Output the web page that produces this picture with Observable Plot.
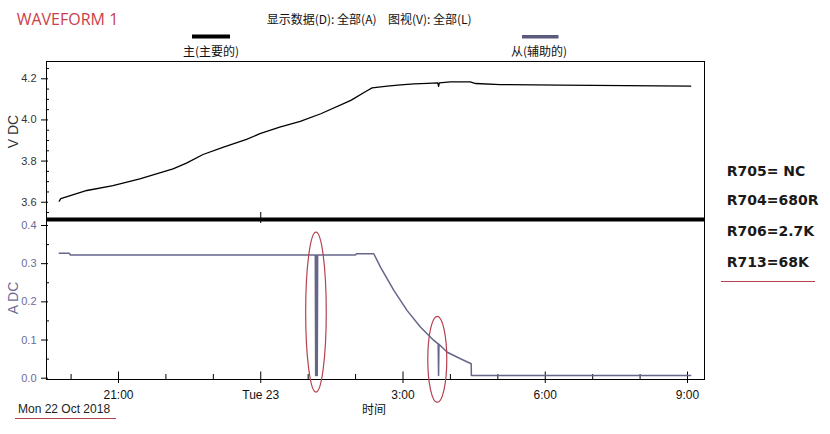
<!DOCTYPE html>
<html>
<head>
<meta charset="utf-8">
<script src="https://cdn.jsdelivr.net/npm/d3@7"></script>
<script src="https://cdn.jsdelivr.net/npm/@observablehq/plot@0.6"></script>
<style>
  body { margin: 0; background: #fff; }
  #wrap { position: relative; width: 830px; height: 434px; overflow: hidden; background: #fff; }
  #wrap svg { position: absolute; left: 0; }
</style>
</head>
<body>
<div id="wrap"></div>
<script>
// ---------------- data ----------------
const vdcData = [
  ["22 19:45", 3.605], ["22 19:47", 3.617], ["22 19:54", 3.626], ["22 20:20", 3.657],
  ["22 20:53", 3.681], ["22 21:27", 3.714], ["22 21:48", 3.738], ["22 22:09", 3.762],
  ["22 22:26", 3.790], ["22 22:47", 3.832], ["22 23:12", 3.867], ["22 23:42", 3.905],
  ["22 23:59", 3.933], ["23 00:24", 3.965], ["23 00:50", 3.993], ["23 01:16", 4.030],
  ["23 01:54", 4.095], ["23 02:15", 4.143], ["23 02:21", 4.156], ["23 02:40", 4.164],
  ["23 02:57", 4.170], ["23 03:14", 4.175], ["23 03:31", 4.178], ["23 03:44", 4.180],
  ["23 03:45", 4.163], ["23 03:46", 4.180], ["23 04:00", 4.185], ["23 04:25", 4.185],
  ["23 04:32", 4.177], ["23 05:03", 4.172], ["23 06:19", 4.169], ["23 09:04", 4.164]
];
const adcData = [
  ["22 19:45", 0.327], ["22 19:58", 0.327], ["22 19:59", 0.323], ["23 01:09", 0.323],
  ["23 01:09.5", 0.007], ["23 01:10", 0.323], ["23 01:10.5", 0.007], ["23 01:11", 0.323],
  ["23 01:11.5", 0.007], ["23 01:12", 0.323], ["23 02:00", 0.323], ["23 02:01", 0.326],
  ["23 02:23", 0.326], ["23 02:31.5", 0.291], ["23 02:48.4", 0.230], ["23 03:05.3", 0.177],
  ["23 03:22", 0.134], ["23 03:39", 0.099], ["23 03:44.5", 0.090], ["23 03:45", 0.007],
  ["23 03:45.5", 0.089], ["23 03:56", 0.068], ["23 04:12.7", 0.051], ["23 04:26.3", 0.038],
  ["23 04:26.5", 0.007], ["23 09:04", 0.007]
];
const timeDomain = ["22 19:28.9", "23 09:21.5"];
const vdcDomain = [3.516, 4.284];
const adcDomain = [-0.0034, 0.4157];
const vdcMajorTicks = [3.6, 3.8, 4.0, 4.2];
const vdcMinorTicks = [3.55, 3.65, 3.7, 3.75, 3.85, 3.9, 3.95, 4.05, 4.1, 4.15, 4.25];
const adcMajorTicks = [0, 0.1, 0.2, 0.3, 0.4];
const adcMinorTicks = [0.05, 0.15, 0.25, 0.35];
const timeMajorTicks = ["22 21:00", "23 00:00", "23 03:00", "23 06:00", "23 09:00"];
const timeMajorLabels = ["21:00", "Tue 23", "3:00", "6:00", "9:00"];
const timeMinorTicks = ["22 20:00", "22 22:00", "22 23:00", "23 01:00", "23 02:00", "23 04:00", "23 05:00", "23 07:00", "23 08:00"];
const dayBoundary = "23 00:00";
const highlightTimes = ["23 01:10.5", "23 03:44"];
const highlightValues = [0.172, 0.048];
const titleText = "WAVEFORM 1";
const menuTexts = ["显示数据(D): 全部(A)", "图视(V): 全部(L)"];
const seriesNames = ["主(主要的)", "从(辅助的)"];
const axisTitles = ["V DC", "A DC", "时间"];
const dateText = "Mon 22 Oct 2018";
const resistorNotes = ["R705= NC", "R704=680R", "R706=2.7K", "R713=68K"];

// ---------------- helpers ----------------
const parseT = s => {
  const [d, hm] = s.split(" ");
  const [h, m] = hm.split(":").map(Number);
  return new Date(Date.UTC(2018, 9, +d, h, 0, Math.round(m * 60)));
};
const vdc = vdcData.map(([t, v]) => ({t: parseT(t), v}));
const adc = adcData.map(([t, v]) => ({t: parseT(t), v}));
const xDom = timeDomain.map(parseT);
const majorT = timeMajorTicks.map(parseT);
const minorT = timeMinorTicks.map(parseT);
const labelMap = new Map(majorT.map((d, i) => [+d, timeMajorLabels[i]]));
const fmt1 = d3.format(".1f");
const wrap = document.getElementById("wrap");
const baseStyle = {background: "transparent", overflow: "visible", fontFamily: "'Liberation Sans', Arial, sans-serif", fontSize: "12px"};

const VCOL = "#000";
const ACOL = "#66668a";
const ALAB = "#6c6c94";

// ---------------- top panel (VDC) ----------------
const topPlot = Plot.plot({
  width: 830, height: 168,
  marginTop: 5, marginBottom: 5, marginLeft: 46, marginRight: 126,
  style: baseStyle,
  x: {type: "utc", domain: xDom, axis: null, label: null},
  y: {domain: vdcDomain, axis: null, label: null},
  marks: [
    Plot.axisY({ticks: vdcMinorTicks, tickSize: 3, dx: 3, fill: "none", label: null}),
    Plot.axisY({ticks: vdcMajorTicks, tickSize: 7, dx: 2, fill: "none", label: null}),
    Plot.axisY({ticks: vdcMajorTicks, tickSize: 0, tickPadding: 10, tickFormat: fmt1, fill: "#333", fontSize: 11, label: null}),
    Plot.axisX({ticks: [parseT(dayBoundary)], tickSize: 11, dy: -7, fill: "none", label: null}),
    Plot.frame({stroke: "#000"}),
    Plot.ruleY([vdcDomain[0]], {stroke: "#000", strokeWidth: 4}),
    Plot.line(vdc, {x: "t", y: "v", stroke: VCOL, strokeWidth: 1.3})
  ]
});
topPlot.style.top = "56px";
wrap.appendChild(topPlot);

// ---------------- bottom panel (ADC) ----------------
const botPlot = Plot.plot({
  width: 830, height: 215,
  marginTop: 5, marginBottom: 50, marginLeft: 46, marginRight: 126,
  style: baseStyle,
  x: {type: "utc", domain: xDom, axis: null, label: null},
  y: {domain: adcDomain, axis: null, label: null},
  marks: [
    Plot.axisY({ticks: adcMinorTicks, tickSize: 3, dx: 3, fill: "none", label: null}),
    Plot.axisY({ticks: adcMajorTicks, tickSize: 7, dx: 2, fill: "none", label: null}),
    Plot.axisY({ticks: adcMajorTicks, tickSize: 0, tickPadding: 10, tickFormat: fmt1, fill: ALAB, fontSize: 11, label: null}),
    Plot.axisX({ticks: minorT, tickSize: 5, dy: -5, fill: "none", label: null}),
    Plot.axisX({ticks: majorT, tickSize: 11.5, dy: -7.5, fill: "none", label: null}),
    Plot.axisX({ticks: majorT, tickSize: 0, tickPadding: 11, tickFormat: d => labelMap.get(+d), fill: "#111", fontSize: 12, label: null}),
    Plot.frame({stroke: "#000"}),
    Plot.line(adc, {x: "t", y: "v", stroke: ACOL, strokeWidth: 1.5})
  ]
});
botPlot.style.top = "214px";
wrap.appendChild(botPlot);

// red highlight ellipses, positioned through the plot's scales
{
  const sx = botPlot.scale("x"), sy = botPlot.scale("y");
  const radii = [[10.3, 80], [9.5, 43]];
  const g = d3.select(botPlot).append("g").attr("fill", "none").attr("stroke", "#b5404f").attr("stroke-width", 1.2);
  highlightTimes.forEach((t, i) => {
    g.append("ellipse")
      .attr("cx", sx.apply(parseT(t)))
      .attr("cy", sy.apply(highlightValues[i]))
      .attr("rx", radii[i][0]).attr("ry", radii[i][1]);
  });
}

// ---------------- overlay texts ----------------
const ov = d3.create("svg").attr("width", 830).attr("height", 434)
  .style("top", "0px").style("pointer-events", "none")
  .style("font-family", "'Liberation Sans', Arial, sans-serif");
ov.append("text").attr("x", 16.7).attr("y", 25).attr("fill", "#cc3d4a")
  .style("font-family", "'Open Sans', sans-serif").style("font-size", "16px").text(titleText);
const cjk = "'Noto Sans CJK SC', sans-serif";
ov.append("text").attr("x", 266.7).attr("y", 24).attr("fill", "#111").style("font-family", cjk).style("font-size", "12px").text(menuTexts[0]);
ov.append("text").attr("x", 388).attr("y", 24).attr("fill", "#111").style("font-family", cjk).style("font-size", "12px").text(menuTexts[1]);
ov.append("rect").attr("x", 192).attr("y", 34.5).attr("width", 38).attr("height", 4).attr("fill", VCOL);
ov.append("rect").attr("x", 522).attr("y", 35).attr("width", 36.5).attr("height", 3.5).attr("fill", "#5a5a7c");
ov.append("text").attr("x", 211).attr("y", 56).attr("text-anchor", "middle").attr("fill", "#111").style("font-family", cjk).style("font-size", "12px").text(seriesNames[0]);
ov.append("text").attr("x", 539).attr("y", 56).attr("text-anchor", "middle").attr("fill", "#111").style("font-family", cjk).style("font-size", "12px").text(seriesNames[1]);
ov.append("text").attr("transform", "translate(18.3,131.5) rotate(-90)").attr("text-anchor", "middle").attr("fill", "#333").style("font-size", "14px").text(axisTitles[0]);
ov.append("text").attr("transform", "translate(18.3,298) rotate(-90)").attr("text-anchor", "middle").attr("fill", ALAB).style("font-size", "14px").text(axisTitles[1]);
ov.append("text").attr("x", 374).attr("y", 414).attr("text-anchor", "middle").attr("fill", "#111").style("font-family", cjk).style("font-size", "12px").text(axisTitles[2]);
ov.append("text").attr("x", 18).attr("y", 413).attr("fill", "#222").style("font-size", "12px").text(dateText);
ov.append("line").attr("x1", 15).attr("x2", 116).attr("y1", 418.5).attr("y2", 418.5).attr("stroke", "#b5404f").attr("stroke-width", 1.2);
const noteY = [176, 205, 236, 267];
resistorNotes.forEach((s, i) => {
  ov.append("text").attr("x", 726.7).attr("y", noteY[i]).attr("fill", "#1a1a1a")
    .style("font-family", "'DejaVu Sans', sans-serif").style("font-weight", "bold").style("font-size", "14px").text(s);
});
ov.append("line").attr("x1", 721).attr("x2", 815).attr("y1", 281.5).attr("y2", 281.5).attr("stroke", "#b5404f").attr("stroke-width", 1.2);
wrap.appendChild(ov.node());
</script>
</body>
</html>
